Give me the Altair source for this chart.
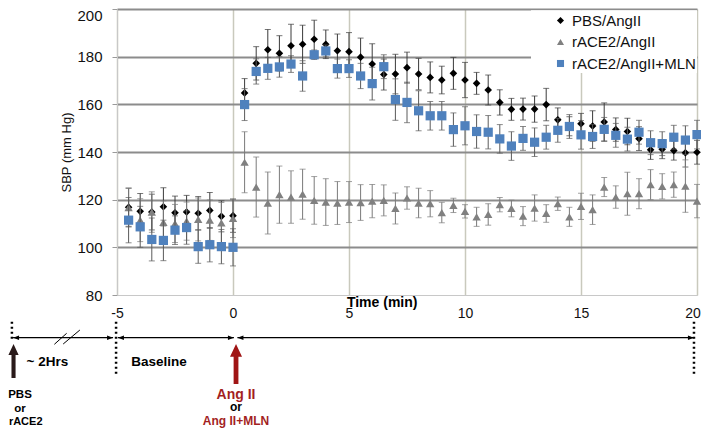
import altair as alt
import pandas as pd

# ---------------- data ----------------
times = [-4.5, -4.0, -3.5, -3.0, -2.5, -2.0, -1.5, -1.0, -0.5, 0.0,
         0.5, 1.0, 1.5, 2.0, 2.5, 3.0, 3.5, 4.0, 4.5, 5.0,
         5.5, 6.0, 6.5, 7.0, 7.5, 8.0, 8.5, 9.0, 9.5, 10.0,
         10.5, 11.0, 11.5, 12.0, 12.5, 13.0, 13.5, 14.0, 14.5, 15.0,
         15.5, 16.0, 16.5, 17.0, 17.5, 18.0, 18.5, 19.0, 19.5, 20.0]

series_names = ["PBS/AngII", "rACE2/AngII", "rACE2/AngII+MLN"]

pbs = [116.8, 115.1, 114.8, 117.0, 114.5, 114.8, 114.3, 115.5, 113.0, 113.3,
       164.8, 177.2, 182.9, 181.4, 184.6, 185.2, 187.3, 185.2, 182.5, 182.1,
       179.8, 176.9, 172.5, 172.7, 175.4, 172.7, 171.3, 170.2, 173.0, 170.2,
       168.8, 166.0, 160.8, 157.9, 158.0, 158.0, 159.9, 153.5, 150.8, 151.9,
       150.9, 152.6, 149.4, 148.6, 145.6, 140.9, 141.2, 140.6, 139.7, 139.9]
pbs_err = [8.0, 7.5, 7.5, 8.0, 7.0, 7.0, 7.0, 7.5, 6.5, 7.0,
           6.0, 7.0, 8.5, 7.4, 9.0, 8.0, 8.0, 6.0, 7.0, 8.0,
           8.0, 8.5, 6.5, 8.3, 6.5, 6.6, 6.5, 5.8, 6.7, 7.4,
           4.6, 6.3, 5.3, 4.6, 4.6, 5.5, 6.8, 5.0, 4.0, 4.3,
           6.4, 8.0, 4.9, 5.6, 5.0, 4.0, 4.0, 4.0, 6.0, 5.0]

race2 = [116.7, 111.4, 114.8, 110.5, 110.0, 111.0, 111.7, 111.4, 110.3, 112.1,
         135.7, 125.3, 118.6, 122.1, 121.1, 122.3, 119.7, 119.0, 118.6, 119.0,
         118.8, 119.4, 119.7, 116.3, 120.7, 118.6, 118.3, 114.6, 117.6, 115.1,
         112.8, 113.8, 117.9, 116.3, 113.1, 116.5, 114.2, 118.3, 112.8, 117.2,
         115.8, 125.3, 121.1, 122.5, 122.5, 126.3, 125.6, 126.3, 125.7, 119.4]
race2_err = [8.2, 9.0, 8.5, 9.0, 8.0, 8.0, 9.0, 8.5, 8.5, 8.0,
             12.8, 12.6, 13.0, 12.0, 11.0, 10.5, 10.0, 9.8, 9.0, 8.6,
             7.5, 7.0, 6.5, 6.5, 4.7, 6.2, 5.5, 4.3, 3.0, 2.8,
             4.0, 4.5, 3.0, 3.5, 4.0, 5.5, 3.7, 2.8, 4.0, 5.5,
             6.2, 4.0, 4.7, 9.0, 6.3, 6.3, 5.3, 5.3, 11.0, 7.0]

mln = [111.4, 108.6, 103.3, 102.9, 107.2, 108.3, 100.3, 101.1, 100.3, 100.0,
       159.9, 173.8, 175.1, 175.7, 176.9, 171.9, 180.8, 182.4, 175.0, 175.0,
       171.9, 168.7, 175.8, 162.0, 160.8, 157.3, 155.2, 155.2, 149.4, 151.0,
       148.6, 148.3, 145.5, 142.5, 145.7, 144.1, 146.2, 149.1, 150.7, 147.2,
       146.5, 149.5, 147.0, 145.4, 148.3, 143.9, 143.5, 146.2, 145.0, 147.3]
mln_err = [9.5, 8.6, 9.0, 8.5, 6.0, 7.0, 7.0, 7.2, 7.2, 7.8,
           6.7, 5.3, 4.6, 4.3, 3.5, 6.4, 2.0, 2.5, 4.0, 3.7,
           5.3, 6.9, 5.0, 8.7, 8.5, 8.4, 6.0, 6.0, 7.0, 8.0,
           7.0, 7.0, 6.0, 6.0, 5.0, 6.0, 5.0, 5.0, 5.0, 6.0,
           5.0, 5.0, 5.0, 5.0, 5.0, 5.0, 5.0, 5.0, 6.0, 6.0]

x_ticks = [-5, 0, 5, 10, 15, 20]
y_ticks = [80, 100, 120, 140, 160, 180, 200]

# ---------------- styling ----------------
FONT = "Liberation Sans"
marker_colors = ["#000000", "#808080", "#4F81BD"]
marker_shapes = ["diamond", "triangle-up", "square"]
marker_sizes = [58, 70, 85]
err_colors = ["#3a3a3a", "#7a7a7a", "#5a5a5a"]
RED = "#A31F1F"

rows = []
for name, vals, errs in zip(series_names, [pbs, race2, mln], [pbs_err, race2_err, mln_err]):
    for t, v, e in zip(times, vals, errs):
        rows.append({"series": name, "time": t, "sbp": v, "lo": v - e, "hi": v + e})
df = pd.DataFrame(rows)

xscale = alt.Scale(domain=[-5, 20], nice=False, zero=False)
yscale = alt.Scale(domain=[80, 200], nice=False, zero=False)

x_axis = alt.Axis(values=x_ticks, title=None, labelFontSize=14, labelFont=FONT,
                  labelColor="#111", labelPadding=11, ticks=False,
                  labelOffset={"condition": {"test": "datum.value === 20", "value": -4.5}, "value": 0},
                  domainColor="#c8c8c8", gridColor="#c9c9bd", gridWidth=1.5,
                  labelExpr="'' + datum.value", labelFlush=False)
y_axis = alt.Axis(values=y_ticks, title="SBP (mm Hg)", titleFont=FONT, titleFontSize=13,
                  titleFontWeight="normal", titleColor="#111", titleAngle=-90,
                  titleX=-51, titleY=143, titleAlign="center", titleBaseline="middle",
                  labelFontSize=15, labelFont=FONT, labelColor="#111", labelPadding=10,
                  labelOffset={"condition": {"test": "datum.value === 200", "value": 6.5}, "value": 0},
                  tickSize=5, tickColor="#9a9a9a", domainColor="#c8c8c8",
                  gridColor={"condition": {"test": "datum.value === 80", "value": "#cfcfcf"},
                             "value": "#8c8c8c"},
                  gridWidth={"condition": {"test": "datum.value === 80", "value": 1},
                             "value": 2.2})


def X(field="time"):
    return alt.X(f"{field}:Q", scale=xscale, axis=x_axis)


def Y(field):
    return alt.Y(f"{field}:Q", scale=yscale, axis=y_axis)


legend = alt.Legend(title=None, orient="none", legendX=436, legendY=4,
                    labelFontSize=15, labelFont=FONT, labelColor="#111",
                    symbolSize=50, rowPadding=5.5, labelOffset=4, padding=0,
                    symbolStrokeWidth=0)

color_enc = alt.Color("series:N", scale=alt.Scale(domain=series_names, range=marker_colors), legend=legend)
shape_enc = alt.Shape("series:N", scale=alt.Scale(domain=series_names, range=marker_shapes), legend=legend)

layers = []

# white legend box
box = alt.Chart(pd.DataFrame({"k": [0]})).mark_rect(color="white").encode(
    x=alt.value(414), x2=alt.value(580), y=alt.value(1.2), y2=alt.value(64))
layers.append(box)

for name, ec, sz in zip(series_names, err_colors, marker_sizes):
    d = df[df.series == name]
    base = alt.Chart(d)
    layers.append(base.mark_rule(color=ec, strokeWidth=1).encode(x=X(), y=Y("lo"), y2="hi:Q"))
    layers.append(base.mark_tick(color=ec, orient="horizontal", size=6, thickness=1).encode(x=X(), y=Y("lo")))
    layers.append(base.mark_tick(color=ec, orient="horizontal", size=6, thickness=1).encode(x=X(), y=Y("hi")))
    layers.append(base.mark_point(filled=True, opacity=1, size=sz, strokeWidth=0).encode(
        x=X(), y=Y("sbp"), color=color_enc, shape=shape_enc))

# ---------------- timeline annotation (x in minutes, y in pixels) ----------------
seg_start = [-9.48, -4.96, 0.19]
seg_end = [-5.17, 0.04, 19.87]
TL_Y = 328.7
seg_df = pd.DataFrame({"t1": seg_start, "t2": seg_end})
layers.append(alt.Chart(seg_df).mark_rule(color="black", strokeWidth=1.2).encode(
    x=alt.X("t1:Q", scale=xscale), x2="t2:Q", y=alt.value(TL_Y)))

left_heads = [-9.35, -4.83, 0.32]
right_heads = [-5.30, -0.09, 19.74]
layers.append(alt.Chart(pd.DataFrame({"t": left_heads})).mark_point(
    shape="M-1,0L1,-0.75L1,0.75Z", filled=True, color="black", opacity=1, size=36, strokeWidth=0).encode(
    x=alt.X("t:Q", scale=xscale), y=alt.value(TL_Y)))
layers.append(alt.Chart(pd.DataFrame({"t": right_heads})).mark_point(
    shape="M1,0L-1,-0.75L-1,0.75Z", filled=True, color="black", opacity=1, size=36, strokeWidth=0).encode(
    x=alt.X("t:Q", scale=xscale), y=alt.value(TL_Y)))

# dotted verticals
layers.append(alt.Chart(pd.DataFrame({"t": [-9.53]})).mark_rule(
    color="black", strokeWidth=2.5, strokeDash=[2, 3]).encode(
    x=alt.X("t:Q", scale=xscale), y=alt.value(312.7), y2=alt.value(331)))
layers.append(alt.Chart(pd.DataFrame({"t": [-5.04, 19.87]})).mark_rule(
    color="black", strokeWidth=2.5, strokeDash=[2, 3]).encode(
    x=alt.X("t:Q", scale=xscale), y=alt.value(312.7), y2=alt.value(366)))

# break marks //
for (a, b, ya, yb) in [(-7.70, -7.17, 335.3, 324.3), (-7.32, -6.60, 335.0, 321.0)]:
    layers.append(alt.Chart(pd.DataFrame({"t1": [a], "t2": [b]})).mark_rule(
        color="black", strokeWidth=1).encode(
        x=alt.X("t1:Q", scale=xscale), x2="t2:Q", y=alt.value(ya), y2=alt.value(yb)))

# big arrows
ARROW = "M0,-1L0.3,-0.36L0.12,-0.36L0.12,1L-0.12,1L-0.12,-0.36L-0.3,-0.36Z"
layers.append(alt.Chart(pd.DataFrame({"t": [-9.46]})).mark_point(
    shape=ARROW, filled=True, color="#2a1a1a", opacity=1, size=1156, strokeWidth=0).encode(
    x=alt.X("t:Q", scale=xscale), y=alt.value(352)))
layers.append(alt.Chart(pd.DataFrame({"t": [0.13]})).mark_point(
    shape=ARROW, filled=True, color="#A01515", opacity=1, size=1600, strokeWidth=0).encode(
    x=alt.X("t:Q", scale=xscale), y=alt.value(355)))


def txt(t, y, text, size, color="black", weight="bold", align="center"):
    return alt.Chart(pd.DataFrame({"t": [t], "s": [text]})).mark_text(
        font=FONT, fontSize=size, fontWeight=weight, color=color, align=align,
        baseline="alphabetic").encode(x=alt.X("t:Q", scale=xscale), y=alt.value(y), text="s:N")


layers += [
    txt(4.91, 297.5, "Time (min)", 14, align="left"),
    txt(-8.0, 356.5, "~ 2Hrs", 13.5),
    txt(-3.19, 356.5, "Baseline", 13.5),
    txt(-9.18, 389, "PBS", 11.5),
    txt(-9.18, 403, "or", 11.5),
    txt(-9.66, 416, "rACE2", 11, align="left"),
    txt(0.13, 389.5, "Ang II", 14, color=RED),
    txt(0.13, 402, "or", 12),
    txt(0.13, 415.5, "Ang II+MLN", 12, color=RED),
]

chart = alt.layer(*layers).properties(
    width=580, height=286,
    autosize=alt.AutoSizeParams(type="none"),
    padding={"left": 109, "top": 1, "right": 4, "bottom": 133},
).configure_view(fill="#FFFED8", stroke=None).configure(background="white")

chart.save("out.html", embed_options={"renderer": "svg", "actions": False})
